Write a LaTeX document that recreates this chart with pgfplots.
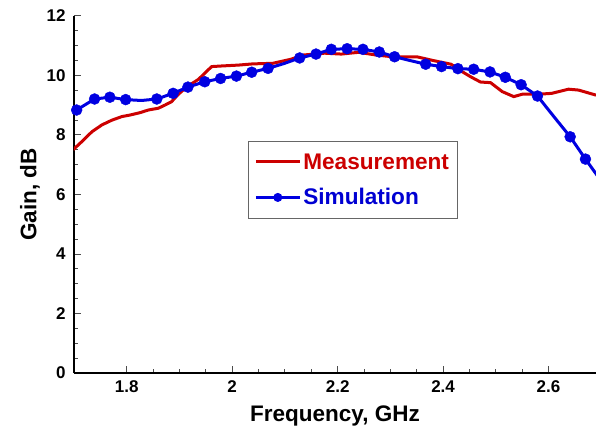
\documentclass[border=0pt]{standalone}
\usepackage{pgfplots}
\pgfplotsset{compat=1.18}
\usepackage{fontspec}
\setmainfont{Liberation Sans}
\definecolor{mred}{RGB}{204,0,0}
\definecolor{mblue}{RGB}{0,0,225}
\definecolor{tblue}{RGB}{0,0,210}
\begin{document}
\begin{tikzpicture}
\useasboundingbox (-74pt,-61pt) rectangle (522pt,373pt);
\begin{axis}[
  at={(0pt,0pt)}, anchor=south west,
  scale only axis, width=522pt, height=357pt,
  xmin=1.7, xmax=2.69, ymin=0, ymax=12,
  axis x line=bottom, axis y line=left,
  axis line style={-, line width=1.3pt, black},
  xtick={1.8,2,2.2,2.4,2.6},
  ytick={0,2,4,6,8,10,12},
  minor x tick num=3, minor y tick num=3,
  tick align=inside,
  major tick length=7pt, minor tick length=4pt,
  every tick/.style={black!70, line width=1pt},
  /pgf/number format/assume math mode=true,
  ticklabel style={font=\fontsize{17}{17}\selectfont\bfseries},
  xticklabel style={yshift=-4pt},
  yticklabel style={xshift=-5pt},
  xlabel={Frequency, GHz}, ylabel={Gain, dB},
  label style={font=\fontsize{22.5}{22.5}\selectfont\bfseries},
  x label style={at={(axis description cs:0.5,-0.1345)}, anchor=base},
  y label style={at={(axis description cs:-0.0843,0.5)}, anchor=center},
  legend style={at={(axis description cs:0.333,0.650)}, anchor=north west,
    draw=black!60, line width=1pt, inner xsep=6pt, inner ysep=10pt,
    font=\fontsize{22.6}{22.6}\selectfont\bfseries, row sep=14pt},
  legend cell align=left,
  clip=true,
]
\addplot[mred, line width=3pt, line join=round,
  legend image code/.code={\draw[mred, line width=3pt] (0pt,0pt) -- (44pt,0pt);}]
  table {
1.698 7.50
1.715 7.78
1.734 8.11
1.753 8.34
1.772 8.50
1.791 8.62
1.806 8.67
1.825 8.75
1.841 8.84
1.860 8.90
1.873 9.01
1.885 9.12
1.898 9.37
1.914 9.62
1.936 9.87
1.961 10.30
1.980 10.32
2.012 10.35
2.039 10.39
2.077 10.41
2.110 10.54
2.136 10.69
2.175 10.75
2.207 10.72
2.240 10.78
2.272 10.69
2.304 10.63
2.350 10.63
2.382 10.50
2.415 10.38
2.436 10.13
2.454 9.94
2.471 9.78
2.490 9.76
2.512 9.46
2.534 9.29
2.550 9.37
2.581 9.37
2.606 9.40
2.638 9.54
2.657 9.51
2.690 9.34
};
\addlegendentry{\textcolor{mred}{Measurement}}
\addplot[mblue, line width=3pt, line join=round, forget plot] table {
1.700 8.78
1.705 8.84
1.739 9.21
1.768 9.27
1.798 9.19
1.828 9.16
1.857 9.21
1.888 9.40
1.916 9.61
1.948 9.79
1.978 9.90
2.008 9.98
2.037 10.11
2.068 10.24
2.098 10.40
2.128 10.59
2.159 10.72
2.188 10.88
2.218 10.90
2.248 10.88
2.279 10.79
2.308 10.63
2.338 10.50
2.367 10.38
2.397 10.30
2.428 10.23
2.458 10.21
2.489 10.12
2.518 9.94
2.548 9.69
2.579 9.31
2.610 8.62
2.641 7.94
2.670 7.19
2.700 6.45
};
\addplot[only marks, mark=*, mark size=5.5pt, mblue, mark options={fill=mblue, draw=mblue},
  legend image code/.code={\draw[mblue, line width=3pt] (0pt,0pt) -- (44pt,0pt);
    \fill[mblue] (22pt,0pt) circle (4pt);}]
  table {
1.705 8.84
1.739 9.21
1.768 9.27
1.798 9.19
1.857 9.21
1.888 9.40
1.916 9.61
1.948 9.79
1.978 9.90
2.008 9.98
2.037 10.11
2.068 10.24
2.128 10.59
2.159 10.72
2.188 10.88
2.218 10.90
2.248 10.88
2.279 10.79
2.308 10.63
2.367 10.38
2.397 10.30
2.428 10.23
2.458 10.21
2.489 10.12
2.518 9.94
2.548 9.69
2.579 9.31
2.641 7.94
2.670 7.19
};
\addlegendentry{\textcolor{tblue}{Simulation}}
\end{axis}
\end{tikzpicture}
\end{document}
